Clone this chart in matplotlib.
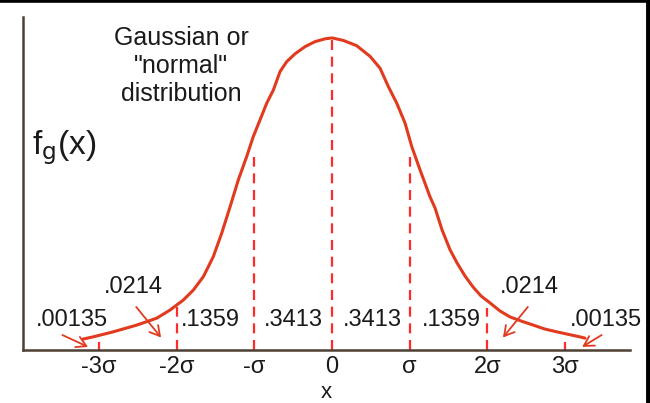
import matplotlib
matplotlib.use("Agg")
import matplotlib.pyplot as plt
from matplotlib.lines import Line2D

plt.rcParams['font.family'] = ['Liberation Sans', 'DejaVu Sans']

# Curve: x in sigma units, y relative to the peak
CURVE_X = [-3.205, -3.076, -2.819, -2.510, -2.256, -2.085, -1.914, -1.785, -1.656,
           -1.528, -1.420, -1.313, -1.206, -1.098, -1.013, -0.927, -0.840, -0.755,
           -0.669, -0.583, -0.476, -0.347, -0.219, -0.090, 0.0,
           0.145, 0.318, 0.489, 0.618, 0.725, 0.833, 0.940, 1.026, 1.133, 1.261,
           1.326, 1.416, 1.519, 1.609, 1.712, 1.815, 1.918, 2.033, 2.162, 2.291,
           2.432, 2.587, 2.741, 2.896, 3.192, 3.256]
CURVE_Y = [0.035, 0.042, 0.058, 0.080, 0.102, 0.128, 0.160, 0.192, 0.235,
           0.299, 0.374, 0.458, 0.545, 0.620, 0.684, 0.737, 0.791, 0.833,
           0.892, 0.924, 0.949, 0.972, 0.988, 0.997, 1.0,
           0.992, 0.975, 0.941, 0.903, 0.844, 0.791, 0.727, 0.652, 0.577, 0.491,
           0.455, 0.385, 0.321, 0.279, 0.237, 0.202, 0.173, 0.151, 0.125, 0.106,
           0.093, 0.080, 0.067, 0.058, 0.042, 0.038]

# dashed guides at the sigma marks
SIGMA_POS = [-3, -2, -1, 0, 1, 2, 3]
GUIDE_TOP = [0.026, 0.138, 0.62, 1.0, 0.62, 0.135, 0.026]
TICK_LABELS = ["-3\u03c3", "-2\u03c3", "-\u03c3", "0", "\u03c3", "2\u03c3", "3\u03c3"]

# area fractions between the sigma marks
AREA_LABELS = [".00135", ".0214", ".1359", ".3413", ".3413", ".1359", ".0214", ".00135"]
AREA_X = [-3.35, -2.56, -1.56, -0.50, 0.52, 1.53, 2.54, 3.53]
AREA_Y = [0.097, 0.202, 0.097, 0.097, 0.097, 0.097, 0.202, 0.097]

# arrows (tail -> head) from labels to curve tails
ARROWS = [((-3.47, 0.048), (-3.14, 0.010)),
          ((-2.52, 0.138), (-2.20, 0.040)),
          ((2.52, 0.138), (2.20, 0.040)),
          ((3.47, 0.048), (3.22, 0.010))]

RED = "#e23a1e"
DASH = "#ff2b2b"
AXIS = "#4d4033"
TXT = "#1a1a1a"

fig = plt.figure(figsize=(6.5, 4.03), dpi=100)
ax = fig.add_axes([23 / 650, 53 / 403, 607 / 650, 333 / 403])
ax.set_xlim(-3.977, 3.835)
ax.set_ylim(0, 1.067)

for x, top in zip(SIGMA_POS, GUIDE_TOP):
    ax.plot([x, x], [0, top], color=DASH, lw=1.6, ls=(0, (4.5, 3)), zorder=2)

ax.plot(CURVE_X, CURVE_Y, color=RED, lw=2.2, solid_capstyle="round",
        solid_joinstyle="round", zorder=3)

for (tail, head) in ARROWS:
    ax.annotate("", xy=head, xytext=tail,
                arrowprops=dict(arrowstyle="->,head_length=0.7,head_width=0.4",
                                color=RED, lw=1.3, shrinkA=0, shrinkB=0))

for lab, x, y in zip(AREA_LABELS, AREA_X, AREA_Y):
    ax.text(x, y, lab, ha="center", va="center", fontsize=17, color=TXT)

ax.text(-1.94, 0.91, 'Gaussian or\n"normal"\ndistribution', ha="center", va="center",
        fontsize=18, color=TXT, linespacing=1.22)

ax.text(-3.45, 0.65, r"f$_{\mathrm{g}}$(x)", ha="center", va="center", fontsize=24, color=TXT)

ax.set_xticks(SIGMA_POS)
ax.set_xticklabels(TICK_LABELS, fontsize=17)
ax.tick_params(axis="x", length=0, pad=4, colors=TXT)
ax.set_yticks([])
ax.set_xlabel("x", fontsize=16, labelpad=3, color=TXT)

for s in ("top", "right"):
    ax.spines[s].set_visible(False)
for s in ("left", "bottom"):
    ax.spines[s].set_color(AXIS)
    ax.spines[s].set_linewidth(1.8)

# frame edges on top and right of the picture
fig.add_artist(Line2D([0, 1], [0.9965, 0.9965], color="black", lw=2.6, transform=fig.transFigure))
fig.add_artist(Line2D([0.9962, 0.9962], [0, 1], color="black", lw=3.5, transform=fig.transFigure))

fig.savefig("out.png", dpi=100)
